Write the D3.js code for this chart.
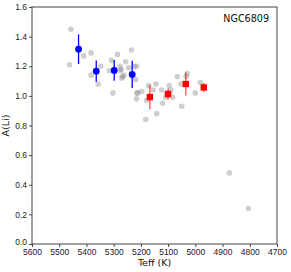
<!DOCTYPE html>
<html>
<head>
<meta charset="utf-8">
<script src="https://cdn.jsdelivr.net/npm/d3@7"></script>
<style>
  body { margin: 0; background: #fff; }
  svg { display: block; font-family: 'DejaVu Sans', sans-serif; }
  .axis path, .axis line { stroke: #444; }
  .axis text { fill: #222; font-size: 8.5px; }
</style>
</head>
<body>
<div id="chart"></div>
<script>
'use strict'

// grey sample stars
var teff_grey = [5457, 5462, 5410, 5383, 5383, 5347, 5357, 5308, 5286, 5316, 5303, 5272,
  5256, 5270, 5235, 5262, 5245, 5216, 5219, 5212, 5214, 5216, 5197, 5182, 5171, 5179,
  5155, 5145, 5142, 5124, 5120, 5105, 5109, 5096, 5090, 5083, 5066, 5050, 5052, 5034,
  5030, 5000, 4982, 4875, 4805, 5276, 5224, 5267, 5276]
var ali_grey = [1.45, 1.21, 1.27, 1.29, 1.14, 1.20, 1.08, 1.24, 1.28, 1.17, 1.02, 1.18,
  1.23, 1.12, 1.31, 1.14, 1.19, 1.20, 1.11, 1.02, 1.02, 0.98, 1.03, 0.84, 1.07, 0.97,
  1.04, 1.08, 0.88, 1.04, 0.95, 1.02, 0.99, 1.07, 1.04, 0.99, 1.13, 0.93, 1.08, 1.13,
  1.15, 1.02, 1.09, 0.48, 0.24, 1.17, 1.20, 1.13, 1.20]

// binned means, hot group (blue) and cool group (red)
var teff_blue = [5429, 5364, 5298, 5232]
var ali_blue  = [1.315, 1.167, 1.172, 1.145]
var err_blue  = [0.10, 0.072, 0.07, 0.092]

var teff_red = [5167, 5100, 5035, 4969]
var ali_red  = [0.992, 1.012, 1.08, 1.057]
var err_red  = [0.082, 0.037, 0.077, 0.03]

var x_ticks = d3.range(5600, 4699, -100)
var y_ticks = [0.0, 0.2, 0.4, 0.6, 0.8, 1.0, 1.2, 1.4, 1.6]
var cluster = 'NGC6809'

//----------------------------------------------
var W = 291, H = 272
var margin = {top: 7, right: 14, bottom: 28, left: 32}
  ,width = W - margin.left - margin.right
  ,height = H - margin.top - margin.bottom

var svg = d3.select('#chart').append('svg')
  .attr('width', W)
  .attr('height', H)
  .append('g')
  .attr('transform', 'translate(' + margin.left + ',' + margin.top + ')')

var scale_x = d3.scaleLinear().domain([5600, 4700]).range([0, width])
var scale_y = d3.scaleLinear().domain([0, 1.6]).range([height, 0])

// frame
svg.append('rect')
  .attr('width', width).attr('height', height)
  .attr('fill', 'none').attr('stroke', '#444').attr('stroke-width', 1)

svg.append('g')
  .attr('class', 'x axis')
  .attr('transform', 'translate(0,' + height + ')')
  .call(d3.axisBottom(scale_x).tickValues(x_ticks).tickSize(3).tickPadding(2).tickFormat(d3.format('d')))
  .call(g => g.select('.domain').remove())

svg.append('g')
  .attr('class', 'y axis')
  .call(d3.axisLeft(scale_y).tickValues(y_ticks).tickSize(3).tickPadding(2).tickFormat(d3.format('.1f')))
  .call(g => g.select('.domain').remove())
  // keep 0.0 clear of the 5600 label
  .call(g => g.selectAll('.tick text').filter(d => d === 0).attr('dy', '0.1em'))

// axis labels
svg.append('text')
  .attr('x', width / 2).attr('y', height + 22)
  .attr('text-anchor', 'middle').attr('font-size', '9.5px').attr('fill', '#111')
  .text('Teff (K)')

svg.append('text')
  .attr('transform', 'translate(' + (-23) + ',' + (height / 2) + ') rotate(-90)')
  .attr('text-anchor', 'middle').attr('font-size', '9.5px').attr('fill', '#111')
  .text('A(Li)')

svg.append('text')
  .attr('x', width - 8).attr('y', 15)
  .attr('text-anchor', 'end').attr('font-size', '9.6px').attr('fill', '#111')
  .text(cluster)

// grey points
svg.selectAll('circle.grey')
  .data(d3.zip(teff_grey, ali_grey))
  .enter().append('circle')
  .attr('class', 'grey')
  .attr('cx', d => scale_x(d[0]))
  .attr('cy', d => scale_y(d[1]))
  .attr('r', 2.8)
  .attr('fill', '#888')
  .attr('fill-opacity', 0.4)

// blue error bars + points
var blue = d3.zip(teff_blue, ali_blue, err_blue)
svg.selectAll('line.eb')
  .data(blue)
  .enter().append('line')
  .attr('class', 'eb')
  .attr('x1', d => scale_x(d[0])).attr('x2', d => scale_x(d[0]))
  .attr('y1', d => scale_y(d[1] - d[2])).attr('y2', d => scale_y(d[1] + d[2]))
  .attr('stroke', 'blue').attr('stroke-width', 1.3)

svg.selectAll('circle.blue')
  .data(blue)
  .enter().append('circle')
  .attr('class', 'blue')
  .attr('cx', d => scale_x(d[0]))
  .attr('cy', d => scale_y(d[1]))
  .attr('r', 3.4)
  .attr('fill', 'blue')

// red error bars + squares
var red = d3.zip(teff_red, ali_red, err_red)
svg.selectAll('line.er')
  .data(red)
  .enter().append('line')
  .attr('class', 'er')
  .attr('x1', d => scale_x(d[0])).attr('x2', d => scale_x(d[0]))
  .attr('y1', d => scale_y(d[1] - d[2])).attr('y2', d => scale_y(d[1] + d[2]))
  .attr('stroke', 'red').attr('stroke-opacity', 0.7).attr('stroke-width', 1.3)

var sq = 6.4
svg.selectAll('rect.red')
  .data(red)
  .enter().append('rect')
  .attr('class', 'red')
  .attr('x', d => scale_x(d[0]) - sq / 2)
  .attr('y', d => scale_y(d[1]) - sq / 2)
  .attr('width', sq).attr('height', sq)
  .attr('fill', 'red')
</script>
</body>
</html>
